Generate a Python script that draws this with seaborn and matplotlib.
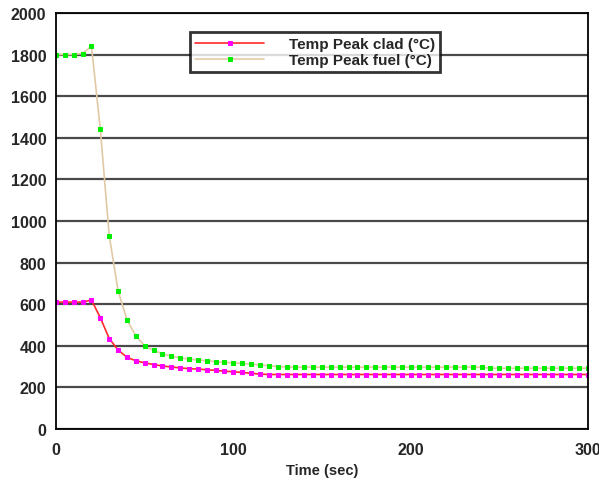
import numpy as np
import pandas as pd
import matplotlib
matplotlib.use("Agg")
import matplotlib.pyplot as plt
import seaborn as sns
from matplotlib.ticker import MultipleLocator

time_s = list(range(0, 305, 5))

fuel_temp = [1800, 1800, 1800, 1805, 1840, 1440, 930, 665, 525, 448,
             400, 378, 362, 350, 342, 336, 332, 328, 324, 320,
             318, 315, 312, 308, 304, 300, 298] + [297] * 22 + [292] * 12

clad_temp = [610, 610, 610, 610, 620, 535, 435, 380, 345, 328,
             318, 310, 303, 298, 294, 290, 288, 285, 282, 278,
             275, 272, 268, 264] + [262] * 37

series_labels = ["Temp Peak clad (°C)", "Temp Peak fuel (°C)"]

df = pd.DataFrame({"Time (sec)": time_s, "clad": clad_temp, "fuel": fuel_temp})

sns.set_style("white")
plt.rcParams["font.family"] = ["Liberation Sans", "DejaVu Sans"]
plt.rcParams["font.weight"] = "bold"

fig = plt.figure(figsize=(5.99, 4.81), dpi=100)
ax = fig.add_axes([0.0935, 0.106, 0.888, 0.865])

sns.lineplot(data=df, x="Time (sec)", y="fuel", ax=ax, color="#e2c9a6", lw=1.2,
             marker="s", markersize=3, markerfacecolor="#00ee00",
             markeredgecolor="#00ee00", label=series_labels[1])
sns.lineplot(data=df, x="Time (sec)", y="clad", ax=ax, color="#ff2a2a", lw=1.2,
             marker="s", markersize=2.5, markerfacecolor="#ff00ff",
             markeredgecolor="#ff00ff", label=series_labels[0])

ax.set_xlim(0, 300)
ax.set_ylim(0, 2000)
ax.xaxis.set_major_locator(MultipleLocator(100))
ax.xaxis.set_minor_locator(MultipleLocator(50))
ax.yaxis.set_major_locator(MultipleLocator(200))
ax.yaxis.set_minor_locator(MultipleLocator(100))
ax.grid(axis="y", which="major", color="#4a4a4a", lw=1.6)
ax.set_axisbelow(True)
ax.tick_params(which="both", direction="inout", color="black", width=1.2)
ax.tick_params(which="major", length=7, labelsize=11.5)
ax.tick_params(which="minor", length=6)
ax.tick_params(axis="x", pad=6)
for lab in ax.get_xticklabels() + ax.get_yticklabels():
    lab.set_fontweight("bold")
for sp in ax.spines.values():
    sp.set_visible(True)
    sp.set_color("black")
    sp.set_linewidth(1.3)

ax.set_xlabel("Time (sec)", fontsize=10.5, fontweight="bold", labelpad=4)
ax.set_ylabel("")

h, l = ax.get_legend_handles_labels()
leg = ax.legend(h[::-1], l[::-1], loc="upper left", bbox_to_anchor=(0.252, 0.954),
                borderaxespad=0, frameon=True, fancybox=False, handlelength=4.5,
                borderpad=0.35, labelspacing=0.1, handletextpad=1.6,
                prop={"weight": "bold", "size": 11})
leg.get_frame().set_edgecolor("black")
leg.get_frame().set_linewidth(2)

fig.savefig("out.png", dpi=100)
